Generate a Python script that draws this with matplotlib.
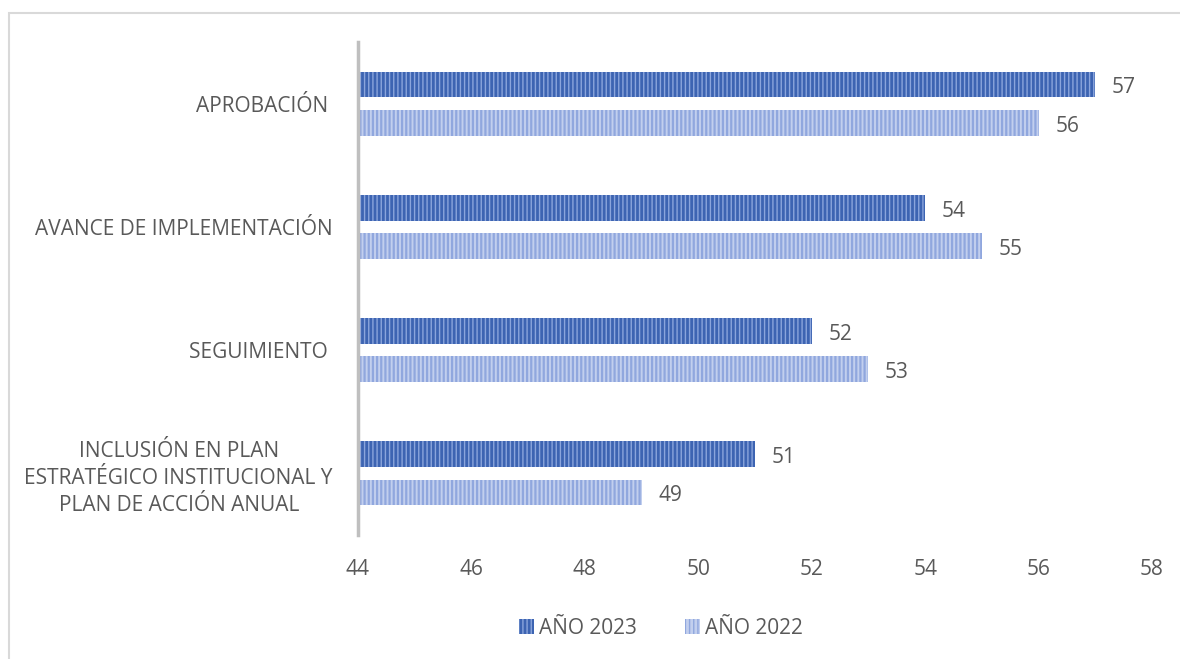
import matplotlib.pyplot as plt
import numpy as np
from matplotlib.patches import Rectangle

plt.rcParams['font.family'] = ['Open Sans', 'DejaVu Sans']

# categories listed bottom to top
categories = [
    "INCLUSIÓN EN PLAN\nESTRATÉGICO INSTITUCIONAL Y\nPLAN DE ACCIÓN ANUAL",
    "SEGUIMIENTO ",
    "AVANCE DE IMPLEMENTACIÓN",
    "APROBACIÓN ",
]
values_2023 = [51, 52, 54, 57]
values_2022 = [49, 53, 55, 56]
series_names = ["AÑO 2023", "AÑO 2022"]
x_ticks = [44, 46, 48, 50, 52, 54, 56, 58]

text_color = "#595959"
face_2023, hatch_2023 = "#3d64b2", "#8ba5dc"
face_2022, hatch_2022 = "#c2cfee", "#90a7de"
fs = 15

fig = plt.figure(figsize=(11.8, 6.59), dpi=100)
fig.patches.append(Rectangle((9 / 1180, -0.1), 1.2, 1 - 13 / 659 + 0.1,
                             transform=fig.transFigure, fill=False,
                             edgecolor="#d9d9d9", linewidth=1.5))
ax = fig.add_axes([358 / 1180, 1 - 535 / 659, (1152 - 358) / 1180, (535 - 42) / 659])

y = np.arange(len(categories))
h = 0.21
off = 0.155
base = x_ticks[0]

plt.rcParams['hatch.linewidth'] = 1.0
b23 = ax.barh(y + off, np.array(values_2023) - base, left=base, height=h,
              color=face_2023, edgecolor=hatch_2023, hatch="||||", linewidth=0)
b22 = ax.barh(y - off, np.array(values_2022) - base, left=base, height=h,
              color=face_2022, edgecolor=hatch_2022, hatch="||||", linewidth=0)
for bar in b22:
    bar._hatch_linewidth = 1.6

# value labels just right of each bar end
for bars, vals in ((b23, values_2023), (b22, values_2022)):
    for bar, v in zip(bars, vals):
        ax.annotate(str(v), (v, bar.get_y() + bar.get_height() / 2),
                    xytext=(12, -2.5), textcoords="offset points",
                    va="center", ha="left", fontsize=fs, color=text_color)

ax.set_xlim(x_ticks[0], x_ticks[-1])
ax.set_ylim(-0.5, len(categories) - 0.5)
ax.set_xticks(x_ticks)
ax.set_xticklabels([str(t) for t in x_ticks])
ax.set_yticks(y)
ax.set_yticklabels(categories, multialignment="center", linespacing=1.38)
ax.tick_params(axis="both", length=0, labelsize=fs, labelcolor=text_color)
ax.tick_params(axis="y", pad=18)
ax.tick_params(axis="x", pad=17)

for side in ("top", "right", "bottom"):
    ax.spines[side].set_visible(False)
ax.spines["left"].set_color("#bfbfbf")
ax.spines["left"].set_linewidth(2.5)

fig.legend([b23, b22], series_names, loc="center", ncol=2,
           bbox_to_anchor=(661 / 1180, 1 - 628 / 659), frameon=False,
           fontsize=fs, labelcolor=text_color, handlelength=0.7,
           handleheight=0.7, handletextpad=0.25, columnspacing=2.3)

fig.savefig("out.png", dpi=100)
